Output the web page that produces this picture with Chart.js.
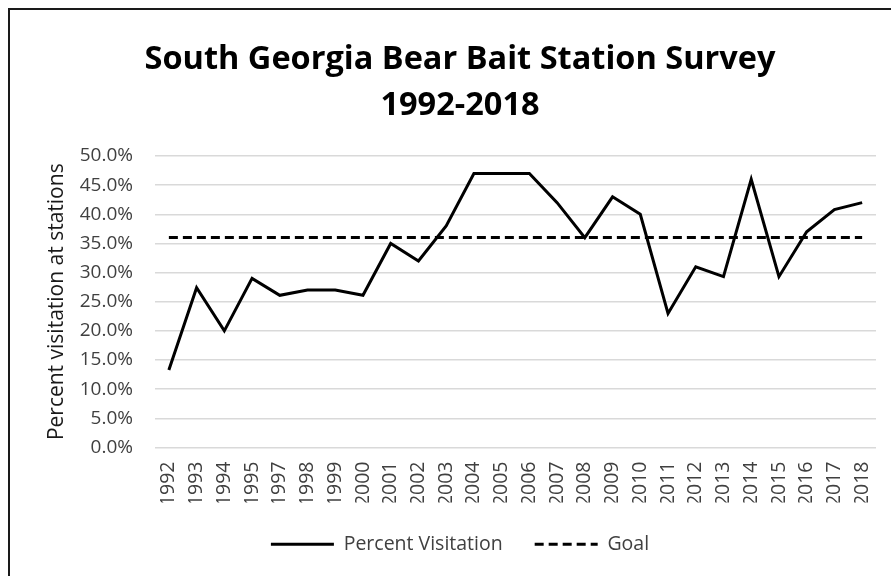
<!DOCTYPE html>
<html>
<head>
<meta charset="utf-8">
<script src="https://cdn.jsdelivr.net/npm/chart.js@4"></script>
<style>
  html, body { margin: 0; padding: 0; background: #fff; }
  #wrap { position: relative; width: 891px; height: 576px; overflow: hidden; }
  #frame { position: absolute; left: 8px; top: 8px; width: 900px; height: 600px; border: 2px solid #1a1a1a; pointer-events: none; }
  canvas { position: absolute; left: 0; top: 0; }
</style>
</head>
<body>
<div id="wrap">
  <canvas id="c" width="891" height="576"></canvas>
  <div id="frame"></div>
</div>
<script>
const years = ['1992','1993','1994','1995','1997','1998','1999','2000','2001','2002','2003','2004','2005','2006','2007','2008','2009','2010','2011','2012','2013','2014','2015','2016','2017','2018'];
const percentVisitation = [13.3, 27.4, 20.0, 29.0, 26.1, 27.0, 27.0, 26.1, 35.0, 32.0, 38.0, 47.0, 47.0, 47.0, 42.0, 36.0, 43.0, 40.0, 23.0, 31.0, 29.3, 46.0, 29.3, 37.0, 40.8, 42.0];
const goal = years.map(() => 36.0);
const yTicks = [0, 5, 10, 15, 20, 25, 30, 35, 40, 45, 50];
const titleLines = ['South Georgia Bear Bait Station Survey', '1992-2018'];
const yTitle = 'Percent visitation at stations';

const FONT = '"Open Sans", Lato, sans-serif';

new Chart(document.getElementById('c'), {
  type: 'line',
  data: {
    labels: years,
    datasets: [
      {
        label: 'Percent Visitation',
        data: percentVisitation,
        borderColor: '#000',
        backgroundColor: '#000',
        borderWidth: 3,
        pointRadius: 0,
        tension: 0,
        fill: false
      },
      {
        label: 'Goal',
        data: goal,
        borderColor: '#000',
        backgroundColor: '#000',
        borderWidth: 3,
        borderDash: [9, 5],
        pointRadius: 0,
        tension: 0,
        fill: false
      }
    ]
  },
  options: {
    responsive: false,
    animation: false,
    devicePixelRatio: 1,
    layout: { padding: { left: 44, right: 15, top: 20, bottom: 12 } },
    plugins: {
      title: {
        display: true,
        text: titleLines,
        color: '#000',
        font: { family: FONT, size: 32.5, weight: 'bold', lineHeight: 1.415 },
        padding: { top: 17, bottom: 27 }
      },
      legend: {
        display: true,
        position: 'bottom',
        labels: {
          color: '#404040',
          font: { family: FONT, size: 19.5 },
          usePointStyle: true,
          pointStyle: 'line',
          pointStyleWidth: 63,
          padding: 32,
          generateLabels: (chart) => chart.data.datasets.map((ds, i) => ({
            text: ds.label,
            datasetIndex: i,
            fillStyle: ds.borderColor,
            strokeStyle: ds.borderColor,
            lineWidth: 3,
            lineDash: ds.borderDash || [],
            pointStyle: 'line',
            fontColor: '#404040',
            hidden: false
          }))
        }
      },
      tooltip: { enabled: false }
    },
    scales: {
      x: {
        offset: true,
        afterFit: (axis) => { axis.height = 55; axis.paddingRight = 0; },
        grid: { display: false, drawTicks: false },
        border: { display: false },
        ticks: {
          color: '#404040',
          font: { family: FONT, size: 19.5 },
          minRotation: 90,
          maxRotation: 90,
          autoSkip: false,
          padding: 14
        }
      },
      y: {
        min: 0,
        max: 50,
        afterBuildTicks: (axis) => { axis.ticks = yTicks.map(v => ({ value: v })); },
        afterFit: (axis) => { axis.width = 111; },
        grid: { color: '#d9d9d9', lineWidth: 1.5, drawTicks: false },
        border: { display: false },
        ticks: {
          color: '#404040',
          font: { family: FONT, size: 19 },
          padding: 22,
          callback: (v) => v.toFixed(1) + '%'
        },
        title: {
          display: true,
          text: yTitle,
          color: '#1a1a1a',
          font: { family: FONT, size: 21 },
          padding: { top: 0, bottom: 0 }
        }
      }
    }
  }
});
</script>
</body>
</html>
